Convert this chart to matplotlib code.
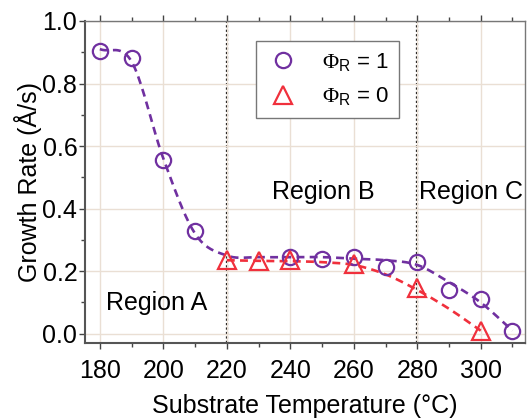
import matplotlib.pyplot as plt
import numpy as np

plt.rcParams['font.family'] = ['Liberation Sans', 'DejaVu Sans']
plt.rcParams['mathtext.fontset'] = 'custom'
plt.rcParams['mathtext.rm'] = 'Liberation Serif'
plt.rcParams['mathtext.sf'] = 'Liberation Sans'

# Data
temp_r1 = [180, 190, 200, 210, 240, 250, 260, 270, 280, 290, 300, 310]
rate_r1 = [0.905, 0.88, 0.555, 0.33, 0.245, 0.24, 0.245, 0.215, 0.23, 0.14, 0.11, 0.01]

temp_r0 = [220, 230, 240, 260, 280, 300]
rate_r0 = [0.235, 0.232, 0.237, 0.222, 0.145, 0.01]

# guide curves
fit_t1 = [180, 190, 200, 210, 220, 230, 240, 250, 260, 270, 280, 290, 300, 310]
fit_r1 = [0.91, 0.87, 0.56, 0.32, 0.25, 0.245, 0.245, 0.245, 0.24, 0.235, 0.22, 0.165, 0.10, 0.01]
fit_t0 = [220, 230, 240, 250, 260, 270, 280, 290, 300]
fit_r0 = [0.235, 0.233, 0.232, 0.229, 0.22, 0.19, 0.14, 0.08, 0.01]

x_ticks = [180, 200, 220, 240, 260, 280, 300]
y_ticks = [0.0, 0.2, 0.4, 0.6, 0.8, 1.0]
region_bounds = [220, 280]

purple = '#7030a0'
red = '#f0303c'


def smooth(xs, ys, n=20):
    # Catmull-Rom through the knots
    xs = np.asarray(xs, float)
    ys = np.asarray(ys, float)
    px = np.concatenate([[2 * xs[0] - xs[1]], xs, [2 * xs[-1] - xs[-2]]])
    py = np.concatenate([[2 * ys[0] - ys[1]], ys, [2 * ys[-1] - ys[-2]]])
    ox, oy = [], []
    t = np.linspace(0, 1, n, endpoint=False)
    for i in range(1, len(px) - 2):
        for p, out in ((px, ox), (py, oy)):
            p0, p1, p2, p3 = p[i - 1], p[i], p[i + 1], p[i + 2]
            out.extend(0.5 * (2 * p1 + (-p0 + p2) * t + (2 * p0 - 5 * p1 + 4 * p2 - p3) * t ** 2
                              + (-p0 + 3 * p1 - 3 * p2 + p3) * t ** 3))
    ox.append(xs[-1])
    oy.append(ys[-1])
    return ox, oy


fig = plt.figure(figsize=(5.31, 4.19), dpi=100)
ax = fig.add_axes([0.160, 0.181, 0.829, 0.769])

ax.grid(True, color='#eadfd4', linewidth=1.0, zorder=0)

for b in region_bounds:
    ax.axvline(b, color='black', linestyle=(0, (1, 1)), linewidth=1.6, zorder=1)

sx, sy = smooth(fit_t1, fit_r1)
ax.plot(sx, sy, color=purple, linestyle=(0, (3, 2)), linewidth=1.9, zorder=2)
sx, sy = smooth(fit_t0, fit_r0)
ax.plot(sx, sy, color=red, linestyle=(0, (3, 2)), linewidth=1.9, zorder=2)

ax.plot(temp_r1, rate_r1, 'o', markersize=11, markerfacecolor='none',
        markeredgecolor=purple, markeredgewidth=1.6, zorder=3, label=r'$\Phi_{\mathsf{R}}$ = 1')
ax.plot(temp_r0, rate_r0, '^', markersize=13, markerfacecolor='none',
        markeredgecolor=red, markeredgewidth=1.6, zorder=4, label=r'$\Phi_{\mathsf{R}}$ = 0')

ax.set_xlim(175.3, 314)
ax.set_ylim(-0.03, 1.0)
ax.set_xticks(x_ticks)
ax.set_xticks(np.arange(190, 320, 20), minor=True)
ax.set_yticks(y_ticks)
ax.set_yticks(np.arange(0.1, 1.0, 0.2), minor=True)
ax.set_yticklabels([f'{v:.1f}' for v in y_ticks])
ax.grid(False, which='minor')

ax.tick_params(axis='both', which='both', direction='out', labelsize=18, color='#444444', width=1.0)
ax.tick_params(which='major', length=4.5)
ax.tick_params(which='minor', length=3)
ax.tick_params(axis='x', which='major', pad=7)
ax.tick_params(axis='y', which='major', pad=1)
ax.tick_params(axis='x', which='both', top=True)

for side in ['left', 'bottom']:
    ax.spines[side].set_color('#555555')
    ax.spines[side].set_linewidth(1.5)
for side in ['top', 'right']:
    ax.spines[side].set_color('#777777')
    ax.spines[side].set_linewidth(1.0)

ax.set_xlabel('Substrate Temperature (°C)', fontsize=18, labelpad=8)
ax.set_ylabel('Growth Rate (Å/s)', fontsize=18, labelpad=0)

ax.text(198, 0.099, 'Region A', fontsize=18, ha='center', va='center')
ax.text(250.5, 0.454, 'Region B', fontsize=18, ha='center', va='center')
ax.text(297, 0.454, 'Region C', fontsize=18, ha='center', va='center')

leg = ax.legend(loc='upper left', bbox_to_anchor=(0.389, 0.938), borderaxespad=0,
                fontsize=16, fancybox=False, edgecolor='#777777', framealpha=1,
                handlelength=1.5, handletextpad=1.0, borderpad=0.45, labelspacing=0.55)
leg.get_frame().set_linewidth(1.0)

plt.savefig('out.png', dpi=100)
